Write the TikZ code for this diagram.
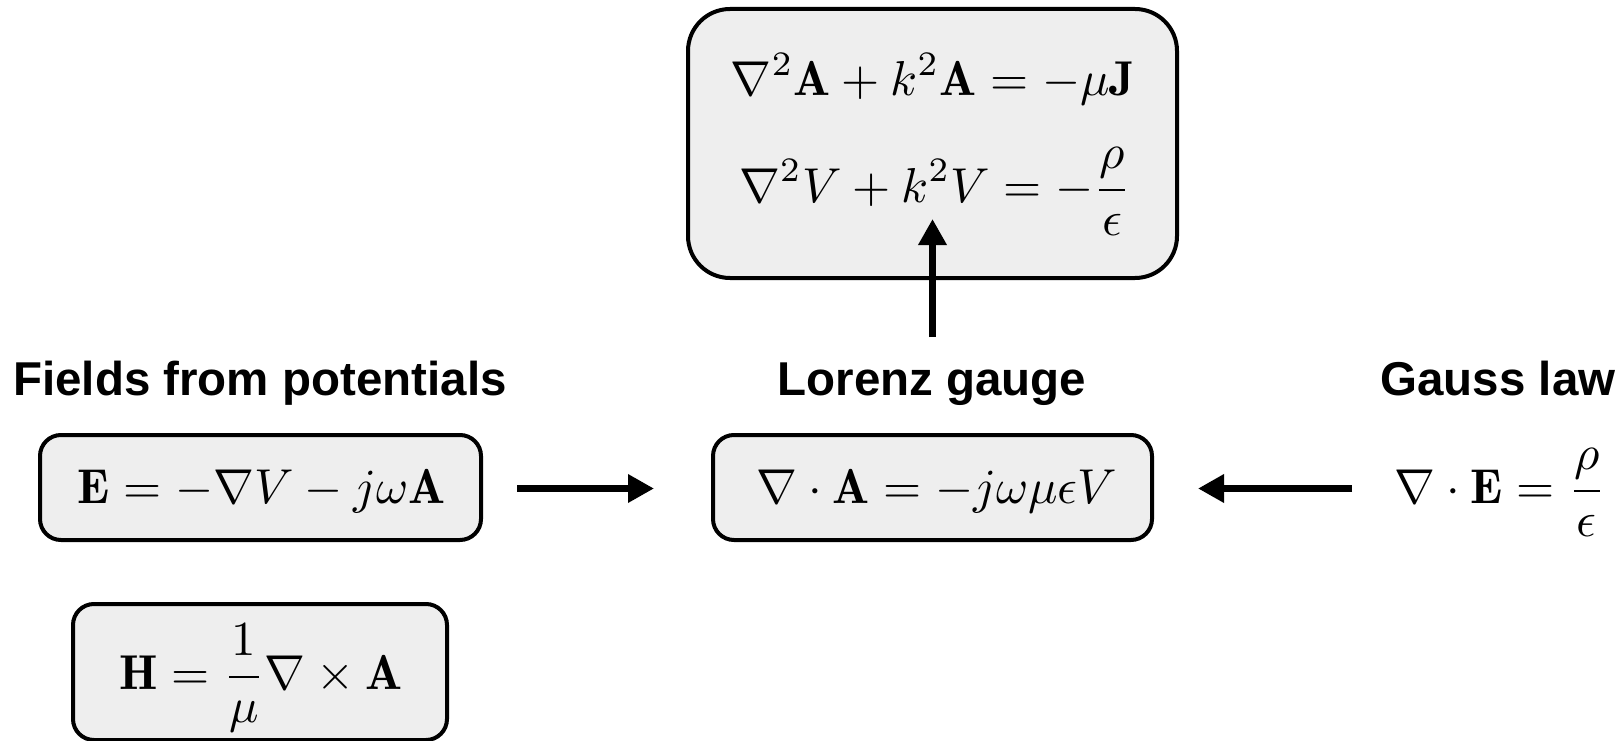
\documentclass[tikz,border=0pt]{standalone}
\usepackage{amsmath}
\usepackage{graphicx}
\usepackage{fontspec}
\setsansfont{Liberation Sans}
\usetikzlibrary{arrows.meta}
\definecolor{boxfill}{HTML}{EEEEEE}
\newcommand{\eqsc}[1]{\scalebox{4.9}{$\displaystyle #1$}}
\tikzset{
  eqbox/.style={draw=black, line width=4pt, fill=boxfill, rounded corners=21pt, inner sep=0pt},
  bigbox/.style={draw=black, line width=4pt, fill=boxfill, rounded corners=42pt, inner sep=0pt},
  eqtext/.style={inner sep=0pt},
  titletext/.style={inner sep=0pt, anchor=base, font=\fontsize{47.5}{57}\selectfont\sffamily\bfseries},
  fatarrow/.style={line width=7.5pt, -{Triangle[length=26pt,width=27pt]}}
}
\begin{document}
\begin{tikzpicture}[x=1pt,y=-1pt]
\useasboundingbox (0,0) rectangle (1622,741);
% top box
\node[bigbox, minimum width=489pt, minimum height=269pt] (helm) at (932.5,143.5) {};
\node[eqtext, anchor=base] (helmA) at (933,96) {\eqsc{\nabla^2\mathbf{A}+k^2\mathbf{A}=-\mu\mathbf{J}}};
\node[eqtext, anchor=base] (helmV) at (935,202) {\eqsc{\nabla^2 V+k^2V=-\frac{\rho}{\epsilon}}};
% titles
\node[titletext] (fields) at (260,395) {Fields from potentials};
\node[titletext] (lorenz) at (932,395) {Lorenz gauge};
\node[titletext] (gauss) at (1498,395) {Gauss law};
% boxes
\node[eqbox, minimum width=441pt, minimum height=105pt] (ebox) at (260.5,487.5) {};
\node[eqtext, anchor=base] (eeq) at (262,503) {\eqsc{\mathbf{E}=-\nabla V-j\omega\mathbf{A}}};
\node[eqbox, minimum width=439pt, minimum height=105pt] (lbox) at (932.5,487.5) {};
\node[eqtext, anchor=base] (leq) at (937,503) {\eqsc{\nabla\cdot\mathbf{A}=-j\omega\mu\epsilon V}};
\node[eqbox, minimum width=374pt, minimum height=136pt] (hbox) at (260,672) {};
\node[eqtext, anchor=base] (heq) at (261,689) {\eqsc{\mathbf{H}=\frac{1}{\mu}\nabla\times\mathbf{A}}};
\node[eqtext, anchor=base] (geq) at (1500,503) {\eqsc{\nabla\cdot\mathbf{E}=\frac{\rho}{\epsilon}}};
% arrows
\coordinate (r1) at (517,488.5);
\coordinate (r2) at (654,488.5);
\coordinate (l1) at (1352,488.5);
\coordinate (l2) at (1198,488.5);
\coordinate (u1) at (932.5,337);
\coordinate (u2) at (932.5,219);
\draw[fatarrow] (r1) -- (r2);
\draw[fatarrow] (l1) -- (l2);
\draw[fatarrow] (u1) -- (u2);
\end{tikzpicture}
\end{document}
